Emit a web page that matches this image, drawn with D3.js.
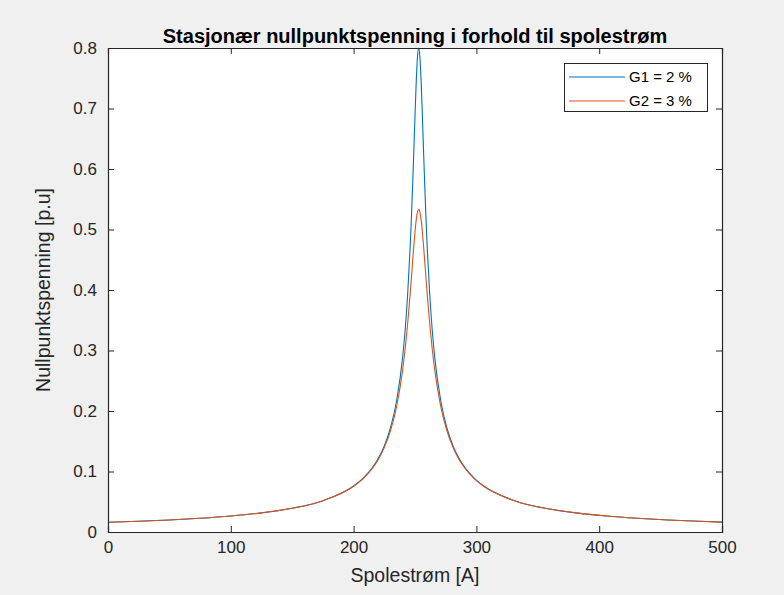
<!DOCTYPE html>
<html><head><meta charset="utf-8">
<script src="https://cdn.jsdelivr.net/npm/d3@7"></script>
<style>
html,body{margin:0;padding:0;background:#f0f0f0;}
svg{display:block;font-family:"Liberation Sans",Arial,sans-serif;}
</style></head>
<body><svg id="c" width="784" height="595"></svg>
<script>
const current = [0,25,50,75,100,125,150,175,200,208,215,220,225,230,235,240,242,244,246,247,248,249,250,251,252,253,254,255,256,257,258,259,260,262,264,266,271,276,281,286,291,298,306,331,356,381,406,431,456,481,500];
const g1 = [0.0160,0.0178,0.0199,0.0227,0.0264,0.0316,0.0393,0.0518,0.0760,0.0894,0.1056,0.1213,0.1422,0.1719,0.2165,0.2902,0.3343,0.3920,0.4687,0.5158,0.5690,0.6275,0.6882,0.7440,0.7848,0.8000,0.7848,0.7440,0.6882,0.6275,0.5690,0.5158,0.4687,0.3920,0.3343,0.2902,0.2165,0.1719,0.1422,0.1213,0.1056,0.0894,0.0760,0.0518,0.0393,0.0316,0.0264,0.0227,0.0199,0.0178,0.0164];
const g2 = [0.0160,0.0177,0.0199,0.0227,0.0264,0.0316,0.0392,0.0517,0.0756,0.0887,0.1045,0.1196,0.1395,0.1671,0.2072,0.2689,0.3029,0.3439,0.3920,0.4184,0.4454,0.4718,0.4960,0.5158,0.5288,0.5333,0.5288,0.5158,0.4960,0.4718,0.4454,0.4184,0.3920,0.3439,0.3029,0.2689,0.2072,0.1671,0.1395,0.1196,0.1045,0.0887,0.0756,0.0517,0.0392,0.0316,0.0264,0.0227,0.0199,0.0177,0.0164];
const seriesNames = ["G1 = 2 %","G2 = 3 %"];
const xTicks = [0,100,200,300,400,500];
const yTicks = [0,0.1,0.2,0.3,0.4,0.5,0.6,0.7,0.8];
const titleText = "Stasjonær nullpunktspenning i forhold til spolestrøm";
const xLabel = "Spolestrøm [A]";
const yLabel = "Nullpunktspenning [p.u]";

const colors = ["#0072BD","#D95319"];
const axCol = "#262626";
const L=108, R=722, T=48, B=532;
const svg = d3.select("#c");
const x = d3.scaleLinear().domain([0,500]).range([L,R]);
const y = d3.scaleLinear().domain([0,0.8]).range([B,T]);

svg.append("rect").attr("x",L).attr("y",T).attr("width",R-L).attr("height",B-T).attr("fill","#fff");

svg.append("defs").append("clipPath").attr("id","clip").append("rect")
  .attr("x",L).attr("y",T-1).attr("width",R-L).attr("height",B-T+1);

const line = d3.line().x((d,i)=>x(current[i])).y(d=>y(d)).curve(d3.curveMonotoneX);
[g1,g2].forEach((s,k)=>{
  svg.append("path").attr("d",line(s)).attr("fill","none").attr("stroke",colors[k])
    .attr("stroke-width",1.1).attr("clip-path","url(#clip)");
});

const tl = 6;
const xb = svg.append("g").attr("transform",`translate(0,${B})`)
  .call(d3.axisBottom(x).tickValues(xTicks).tickSize(-tl).tickPadding(9).tickFormat(d3.format("d")));
const xt = svg.append("g").attr("transform",`translate(0,${T})`)
  .call(d3.axisTop(x).tickValues(xTicks).tickSize(-tl).tickFormat(""));
const yl = svg.append("g").attr("transform",`translate(${L},0)`)
  .call(d3.axisLeft(y).tickValues(yTicks).tickSize(-tl).tickPadding(11).tickFormat(d=>d===0?"0":d3.format(".1f")(d)));
const yr = svg.append("g").attr("transform",`translate(${R},0)`)
  .call(d3.axisRight(y).tickValues(yTicks).tickSize(-tl).tickFormat(""));
[xb,xt,yl,yr].forEach(g=>{
  g.select(".domain").attr("stroke",axCol).attr("stroke-width",1.2);
  g.selectAll(".tick line").attr("stroke",axCol);
  g.selectAll(".tick text").attr("fill",axCol).style("font-size","17px").style("font-family","'Liberation Sans',Arial,sans-serif");
});
xb.selectAll(".tick text").attr("dy","0.71em");
[xb,xt].forEach(g=>g.selectAll(".tick").filter(d=>d===0||d===500).select("line").remove());
[yl,yr].forEach(g=>g.selectAll(".tick").filter(d=>d===0||d===0.8).select("line").remove());

svg.append("text").attr("x",(L+R)/2).attr("y",43).attr("text-anchor","middle")
  .attr("fill","#000").style("font-size","20px").style("font-weight","bold").text(titleText);
svg.append("text").attr("x",(L+R)/2).attr("y",582).attr("text-anchor","middle")
  .attr("fill",axCol).style("font-size","19.5px").text(xLabel);
svg.append("text").attr("transform",`translate(50,${(T+B)/2}) rotate(-90)`).attr("text-anchor","middle")
  .attr("fill",axCol).style("font-size","19.5px").text(yLabel);

const lg = svg.append("g");
lg.append("rect").attr("x",564.5).attr("y",63.5).attr("width",143).attr("height",48)
  .attr("fill","#fff").attr("stroke",axCol).attr("stroke-width",1);
seriesNames.forEach((n,k)=>{
  const yy = 77 + k*24;
  lg.append("line").attr("x1",569).attr("x2",625).attr("y1",yy).attr("y2",yy).attr("stroke",colors[k]).attr("stroke-width",1.1);
  lg.append("text").attr("x",629).attr("y",yy).attr("dy","0.35em").attr("fill","#000").style("font-size","15px").text(n);
});
</script></body></html>
